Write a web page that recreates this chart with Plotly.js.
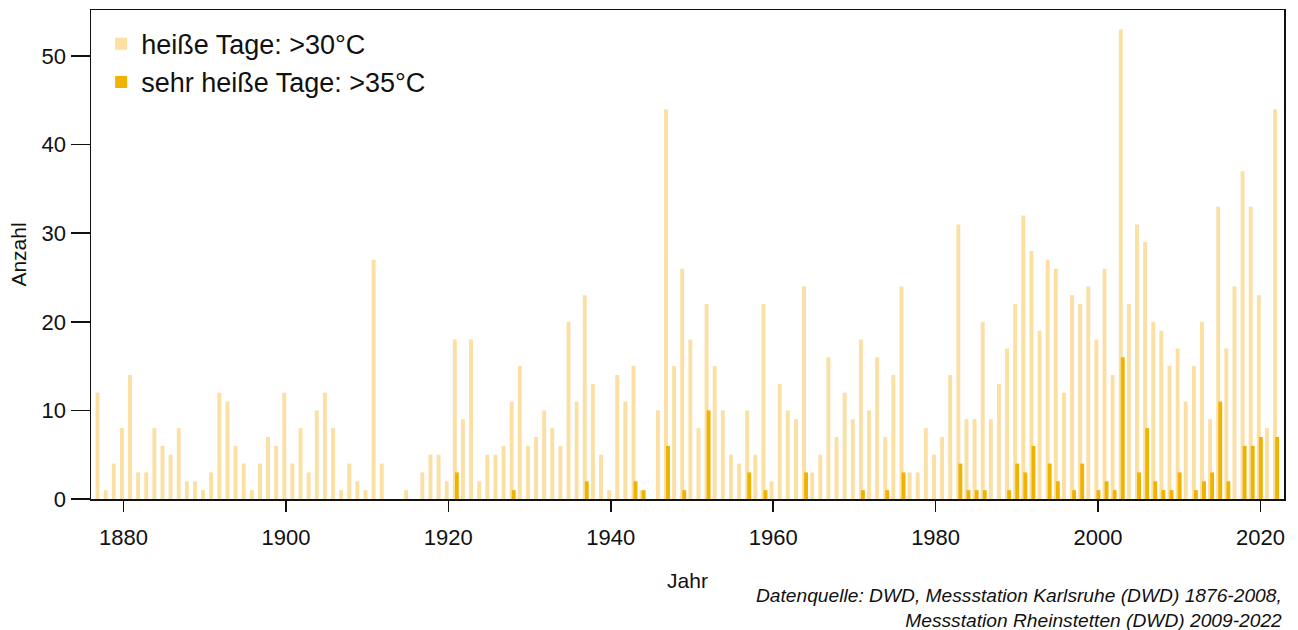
<!DOCTYPE html>
<html>
<head>
<meta charset="utf-8">
<script src="https://cdn.plot.ly/plotly-3.0.1.min.js"></script>
<style>html,body{margin:0;padding:0;background:#fff;}#chart{width:1298px;height:630px;}</style>
</head>
<body>
<div id="chart"></div>
<script>
const firstYear = 1877;
const hotDays = [
 12,1,4,8,14,3,3,8,6,5,8,2,2,1,3,12,11,6,4,1,4,7,6,          // 1877-1899
 12,4,8,3,10,12,8,1,4,2,1,27,4,0,0,1,0,3,5,5,                // 1900-1919
 2,18,9,18,2,5,5,6,11,15,6,7,10,8,6,20,11,23,13,5,           // 1920-1939
 1,14,11,15,1,0,10,44,15,26,18,8,22,15,10,5,4,10,5,22,       // 1940-1959
 2,13,10,9,24,3,5,16,7,12,9,18,10,16,7,14,24,3,3,8,          // 1960-1979
 5,7,14,31,9,9,20,9,13,17,22,32,28,19,27,26,12,23,22,24,     // 1980-1999
 18,26,14,53,22,31,29,20,19,15,17,11,15,20,9,33,17,24,37,33, // 2000-2019
 23,8,44                                                      // 2020-2022
];
const veryHotYears = [1921,1928,1937,1943,1944,1947,1949,1952,1957,1959,1964,1971,1974,1976,
  1983,1984,1985,1986,1989,1990,1991,1992,1994,1995,1997,1998,2000,2001,2002,2003,2005,2006,
  2007,2008,2009,2010,2012,2013,2014,2015,2016,2018,2019,2020,2022];
const veryHotValues = [3,1,2,2,1,6,1,10,3,1,3,1,1,3,
  4,1,1,1,1,4,3,6,4,2,1,4,1,2,1,16,3,8,
  2,1,1,3,1,2,3,11,2,6,6,7,7];
const yTicks = [0,10,20,30,40,50];
const xTicks = [1880,1900,1920,1940,1960,1980,2000,2020];

const years = hotDays.map((_, i) => firstYear + i);
const font = "Liberation Sans, Arial, sans-serif";

const traces = [
  {type:'bar', name:'heiße Tage: >30°C', x:years, y:hotDays,
   marker:{color:'#fbdfa3', line:{width:0}}, offset:-0.44, width:0.48},
  {type:'bar', name:'sehr heiße Tage: >35°C', x:veryHotYears, y:veryHotValues,
   marker:{color:'#f0b300', line:{width:0}}, offset:-0.19, width:0.48}
];

const layout = {
  width:1298, height:630,
  margin:{l:91, r:14, t:10, b:131},
  paper_bgcolor:'#fff', plot_bgcolor:'#fff',
  barmode:'overlay',
  font:{family:font, color:'#1a1a1a'},
  showlegend:true,
  legend:{x:0.0085, y:0.98, xanchor:'left', yanchor:'top', bgcolor:'rgba(0,0,0,0)',
          font:{size:27, family:font, color:'#111'}, traceorder:'normal', tracegroupgap:0},
  xaxis:{range:[1876, 2022.9], tickvals:xTicks, ticktext:xTicks.map(String),
         ticks:'outside', ticklen:11, tickwidth:1.5, tickcolor:'#111',
         showline:true, linecolor:'#111', linewidth:1.5, mirror:true,
         showgrid:false, zeroline:false, ticklabelstandoff:7,
         tickfont:{size:22, family:font, color:'#111'},
         title:{text:'Jahr', font:{size:21, family:font, color:'#111'}, standoff:24}},
  yaxis:{range:[0, 55.2], tickvals:yTicks, ticktext:yTicks.map(String),
         ticks:'outside', ticklen:19, tickwidth:1.5, tickcolor:'#111',
         showline:true, linecolor:'#111', linewidth:1.5, mirror:true,
         showgrid:false, zeroline:false,
         tickfont:{size:22, family:font, color:'#111'},
         title:{text:'Anzahl', font:{size:21, family:font, color:'#111'}, standoff:9}},
  annotations:[{
    xref:'paper', yref:'paper', x:1.0, y:-0.172, xanchor:'right', yanchor:'top', align:'right',
    showarrow:false,
    text:'<i>Datenquelle: DWD, Messstation Karlsruhe (DWD) 1876-2008,<br>Messstation Rheinstetten (DWD) 2009-2022</i>',
    font:{size:19.2, family:font, color:'#111'}
  }]
};

Plotly.newPlot('chart', traces, layout, {displayModeBar:false, staticPlot:true});
</script>
</body>
</html>
